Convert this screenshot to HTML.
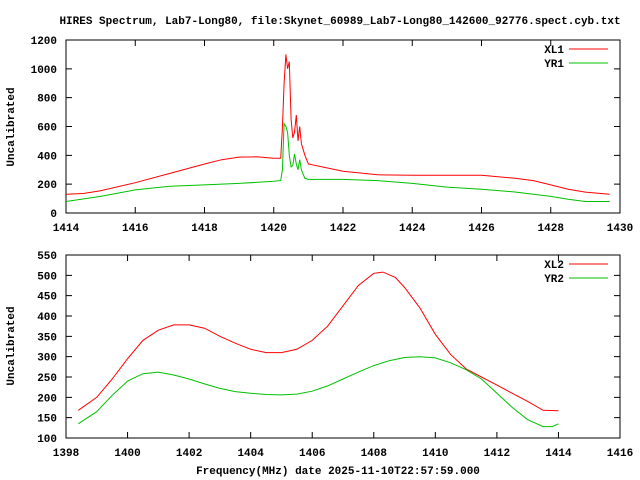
<!DOCTYPE html>
<html><head><meta charset="utf-8"><style>
html,body{margin:0;padding:0;background:#fff;}
svg{display:block;font-family:"Liberation Mono",monospace;font-weight:bold;font-size:11px;}
</style></head><body>
<svg id="c" width="640" height="480" viewBox="0 0 640 480" xmlns="http://www.w3.org/2000/svg">
<rect x="0" y="0" width="640" height="480" fill="#fff"/>
<text x="340" y="24" text-anchor="middle">HIRES Spectrum, Lab7-Long80, file:Skynet_60989_Lab7-Long80_142600_92776.spect.cyb.txt</text>
<text x="338" y="474" text-anchor="middle">Frequency(MHz) date 2025-11-10T22:57:59.000</text>
<text transform="translate(14,127) rotate(-90)" text-anchor="middle">Uncalibrated</text>
<text transform="translate(14,346) rotate(-90)" text-anchor="middle">Uncalibrated</text>
</svg>
<script>
const topXTicks=[1414,1416,1418,1420,1422,1424,1426,1428,1430];
const topYTicks=[0,200,400,600,800,1000,1200];
const xl1Freq=[1414,1414.5,1415,1416,1417,1418,1418.5,1419,1419.5,1420,1420.2,1420.25,1420.3,1420.35,1420.4,1420.45,1420.5,1420.55,1420.6,1420.65,1420.7,1420.75,1420.8,1420.9,1421,1421.5,1422,1423,1424,1425,1426,1427,1427.5,1428,1428.5,1429,1429.7];
const xl1Vals=[130,135,155,210,275,340,370,388,390,380,380,590,900,1100,1000,1050,650,520,560,680,500,600,480,400,340,315,290,265,262,262,262,240,225,195,165,145,130];
const yr1Freq=[1414,1415,1416,1417,1418,1419,1420,1420.2,1420.25,1420.3,1420.35,1420.4,1420.45,1420.5,1420.55,1420.6,1420.65,1420.7,1420.75,1420.8,1420.9,1421,1422,1423,1424,1425,1426,1427,1428,1428.5,1429,1429.7];
const yr1Vals=[80,115,160,185,195,205,220,225,300,620,600,560,400,320,330,410,340,300,370,300,240,233,233,225,205,180,165,145,115,95,80,80];
const botXTicks=[1398,1400,1402,1404,1406,1408,1410,1412,1414,1416];
const botYTicks=[100,150,200,250,300,350,400,450,500,550];
const xl2Freq=[1398.4,1399,1399.5,1400,1400.5,1401,1401.5,1402,1402.5,1403,1403.5,1404,1404.5,1405,1405.5,1406,1406.5,1407,1407.5,1408,1408.3,1408.7,1409,1409.5,1410,1410.5,1411,1411.5,1412,1412.5,1413,1413.5,1414];
const xl2Vals=[168,200,245,295,340,365,378,378,370,350,333,318,310,310,318,340,375,425,475,505,508,495,470,420,355,305,270,250,230,210,190,168,167];
const yr2Freq=[1398.4,1399,1399.5,1400,1400.5,1401,1401.5,1402,1402.5,1403,1403.5,1404,1404.5,1405,1405.5,1406,1406.5,1407,1407.5,1408,1408.5,1409,1409.5,1410,1410.5,1411,1411.5,1412,1412.5,1413,1413.5,1413.8,1414];
const yr2Vals=[135,165,205,240,258,262,255,245,233,222,214,210,207,206,208,215,228,245,262,278,290,298,300,297,285,268,245,210,175,145,128,128,135];

const svg=document.getElementById('c');
const NS='http://www.w3.org/2000/svg';
function mk(tag,attrs){const e=document.createElementNS(NS,tag);for(const k in attrs)e.setAttribute(k,attrs[k]);svg.appendChild(e);return e;}

function panel(p){
  const sx=v=>p.L+(v-p.x0)/(p.x1-p.x0)*(p.R-p.L);
  const sy=v=>p.B-(v-p.y0)/(p.y1-p.y0)*(p.B-p.T);
  const fr=mk('rect',{x:p.L,y:p.T,width:p.R-p.L,height:p.B-p.T,fill:'none',stroke:'#000','stroke-width':1});
  
  
  p.xt.forEach(v=>{
    const x=sx(v);
    const t=mk('path',{d:`M${x},${p.B}v-6M${x},${p.T}v6`,stroke:'#000','stroke-width':1});
    
    
    const l=mk('text',{x:x,y:p.B+18,'text-anchor':'middle'});l.textContent=v;
    
    
  });
  p.yt.forEach(v=>{
    const y=sy(v);
    const t=mk('path',{d:`M${p.L},${y}h6M${p.R},${y}h-6`,stroke:'#000','stroke-width':1});
    
    
    const l=mk('text',{x:p.L-9,y:y+4,'text-anchor':'end'});l.textContent=v;
    
    
  });
  p.series.forEach((s,i)=>{
    const pts=s.f.map((f,j)=>sx(f).toFixed(1)+','+sy(s.v[j]).toFixed(1)).join(' ');
    const pl=mk('polyline',{points:pts,fill:'none',stroke:s.c,'stroke-width':1});
    
    
    const ly=p.T+9+i*14;
    const lt=mk('text',{x:p.R-56,y:ly+4,'text-anchor':'end'});lt.textContent=s.n;
    
    
    const ll=mk('line',{x1:p.R-51,x2:p.R-12,y1:ly,y2:ly,stroke:s.c,'stroke-width':1});
    
    
  });
}
panel({name:'top',L:66,R:620,T:40,B:213,x0:1414,x1:1430,y0:0,y1:1200,xt:topXTicks,yt:topYTicks,
  series:[{n:'XL1',c:'#ff0000',f:xl1Freq,v:xl1Vals},{n:'YR1',c:'#00c000',f:yr1Freq,v:yr1Vals}]});
panel({name:'bottom',L:66,R:620,T:255,B:438,x0:1398,x1:1416,y0:100,y1:550,xt:botXTicks,yt:botYTicks,
  series:[{n:'XL2',c:'#ff0000',f:xl2Freq,v:xl2Vals},{n:'YR2',c:'#00c000',f:yr2Freq,v:yr2Vals}]});
</script>
</body></html>
